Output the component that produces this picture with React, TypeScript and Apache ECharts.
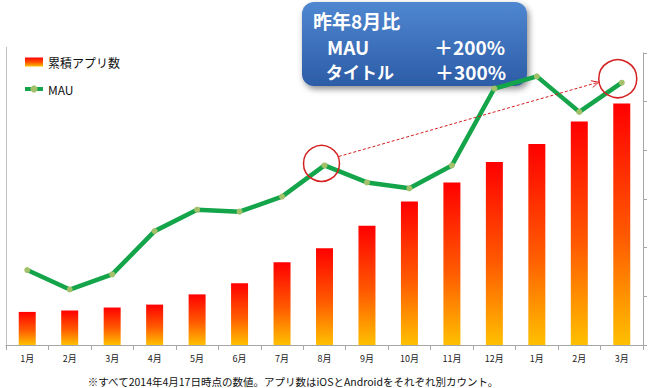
import React, { useEffect, useRef } from "react";
import * as echarts from "echarts";

const categories = ["1月", "2月", "3月", "4月", "5月", "6月", "7月", "8月", "9月", "10月", "11月", "12月", "1月", "2月", "3月"];
const appCounts = [68, 71, 77, 83, 104, 127, 170, 199, 245, 295, 334, 376, 413, 459, 496];
const mauValues = [154, 114, 145, 234, 278, 274, 305, 369, 334, 322, 369, 527, 552, 479, 539];
const seriesNames = ["累積アプリ数", "MAU"];
const calloutTitle = "昨年8月比";
const calloutRows = [
  ["MAU", "＋200%"],
  ["タイトル", "＋300%"],
];
const footnote = "※すべて2014年4月17日時点の数値。アプリ数はiOSとAndroidをそれぞれ別カウント。";
const highlightIdx = [7, 14];

const JP = '"Noto Sans CJK JP", "Noto Sans", sans-serif';

export default function App() {
  const ref = useRef<HTMLDivElement>(null);
  useEffect(() => {
    if (!ref.current) return;
    const chart = echarts.init(ref.current, null, { renderer: "svg" });
    const barGrad = new echarts.graphic.LinearGradient(0, 0, 0, 1, [
      { offset: 0, color: "#ff0000" },
      { offset: 0.55, color: "#ff5a00" },
      { offset: 1, color: "#ffc000" },
    ]);
    chart.setOption({
      animation: false,
      backgroundColor: "#ffffff",
      grid: { left: 6, right: 7, top: 53, bottom: 43, containLabel: false },
      legend: {
        orient: "vertical",
        left: 18,
        top: 51,
        itemWidth: 18,
        itemHeight: 9,
        itemGap: 15,
        textStyle: { fontFamily: JP, fontSize: 12, color: "#111" },
        data: [
          { name: seriesNames[0], icon: "rect" },
          { name: seriesNames[1], lineStyle: { width: 4, color: "#14a44a" }, itemStyle: { color: "#a3c16a" } },
        ],
      },
      xAxis: {
        type: "category",
        data: categories,
        axisLine: { lineStyle: { color: "#a6a6a6" } },
        axisTick: { show: true, alignWithLabel: false, length: 5, lineStyle: { color: "#a6a6a6" } },
        axisLabel: { fontFamily: JP, fontSize: 9, color: "#222", margin: 9 },
      },
      yAxis: [
        {
          type: "value",
          min: 0,
          max: 600,
          interval: 100,
          position: "left",
          axisLine: { show: true, lineStyle: { color: "#bfbfbf" } },
          axisTick: { show: false },
          axisLabel: { show: false },
          splitLine: { show: false },
        },
        {
          type: "value",
          min: 0,
          max: 600,
          interval: 100,
          position: "right",
          axisLine: { show: true, lineStyle: { color: "#a6a6a6" } },
          axisTick: { show: true, length: 4, lineStyle: { color: "#a6a6a6" } },
          axisLabel: { show: false },
          splitLine: { show: false },
        },
      ],
      series: [
        {
          name: seriesNames[0],
          type: "bar",
          yAxisIndex: 1,
          data: appCounts,
          barWidth: 17,
          itemStyle: { color: barGrad },
        },
        {
          name: seriesNames[1],
          type: "line",
          yAxisIndex: 0,
          data: mauValues,
          symbol: "circle",
          symbolSize: 6,
          lineStyle: { color: "#14a44a", width: 4.5 },
          itemStyle: { color: "#a3c16a", borderWidth: 0 },
          z: 5,
        },
      ],
    });

    const p1 = chart.convertToPixel({ xAxisIndex: 0, yAxisIndex: 0 }, [highlightIdx[0], mauValues[highlightIdx[0]]]) as number[];
    const p2 = chart.convertToPixel({ xAxisIndex: 0, yAxisIndex: 0 }, [highlightIdx[1], mauValues[highlightIdx[1]]]) as number[];
    const c1 = [p1[0] - 3, p1[1] - 2];
    const c2 = [p2[0] - 4, p2[1] - 4];
    const r1 = 18;
    const r2 = 19;
    const dx = c2[0] - c1[0];
    const dy = c2[1] - c1[1];
    const len = Math.sqrt(dx * dx + dy * dy);
    const ux = dx / len;
    const uy = dy / len;
    const s = [c1[0] + ux * r1, c1[1] + uy * r1 - 2];
    const e = [c2[0] - ux * (r2 + 1), c2[1] - uy * (r2 + 1) - 2];
    const ah = 7;
    const px = -uy;
    const py = ux;
    const head = [
      [e[0] - ux * ah + px * 3.5, e[1] - uy * ah + py * 3.5],
      [e[0], e[1]],
      [e[0] - ux * ah - px * 3.5, e[1] - uy * ah - py * 3.5],
    ];
    const red = "#d42020";
    const bold = `bold 19px ${JP}`;

    chart.setOption({
      graphic: [
        { type: "line", shape: { x1: 6.5, y1: 47, x2: 6.5, y2: 53 }, style: { stroke: "#bfbfbf", lineWidth: 1 } },
        { type: "circle", shape: { cx: c1[0], cy: c1[1], r: r1 }, style: { fill: "none", stroke: red, lineWidth: 1.5 }, z: 20 },
        { type: "circle", shape: { cx: c2[0], cy: c2[1], r: r2 }, style: { fill: "none", stroke: red, lineWidth: 1.5 }, z: 20 },
        { type: "line", shape: { x1: s[0], y1: s[1], x2: e[0], y2: e[1] }, style: { stroke: red, lineWidth: 1, lineDash: [3, 2] }, z: 20 },
        { type: "polyline", shape: { points: head }, style: { fill: "none", stroke: red, lineWidth: 1 }, z: 20 },
        {
          type: "group",
          z: 30,
          children: [
            {
              type: "rect",
              shape: { x: 302, y: 2, width: 225, height: 84, r: 12 },
              style: {
                fill: new echarts.graphic.LinearGradient(0, 0, 0, 1, [
                  { offset: 0, color: "#4f87d0" },
                  { offset: 1, color: "#2c5ca6" },
                ]),
                shadowBlur: 6,
                shadowOffsetX: 2,
                shadowOffsetY: 3,
                shadowColor: "rgba(0,0,0,0.45)",
              },
            },
            { type: "text", x: 313, y: 20, style: { text: calloutTitle, fill: "#fff", font: bold, verticalAlign: "middle" } },
            { type: "text", x: 327, y: 46, style: { text: calloutRows[0][0], fill: "#fff", font: bold, verticalAlign: "middle" } },
            { type: "text", x: 505, y: 46, style: { text: calloutRows[0][1], fill: "#fff", font: bold, verticalAlign: "middle", align: "right" } },
            { type: "text", x: 326, y: 71, style: { text: calloutRows[1][0], fill: "#fff", font: `bold 17px ${JP}`, verticalAlign: "middle" } },
            { type: "text", x: 506, y: 71, style: { text: calloutRows[1][1], fill: "#fff", font: bold, verticalAlign: "middle", align: "right" } },
          ],
        },
        { type: "text", x: 293, y: 381, style: { text: footnote, fill: "#111", font: `10.5px ${JP}`, align: "center", verticalAlign: "middle" } },
      ],
    });
    return () => chart.dispose();
  }, []);
  return <div ref={ref} style={{ position: "absolute", left: 0, top: 0, width: 650, height: 388 }} />;
}
